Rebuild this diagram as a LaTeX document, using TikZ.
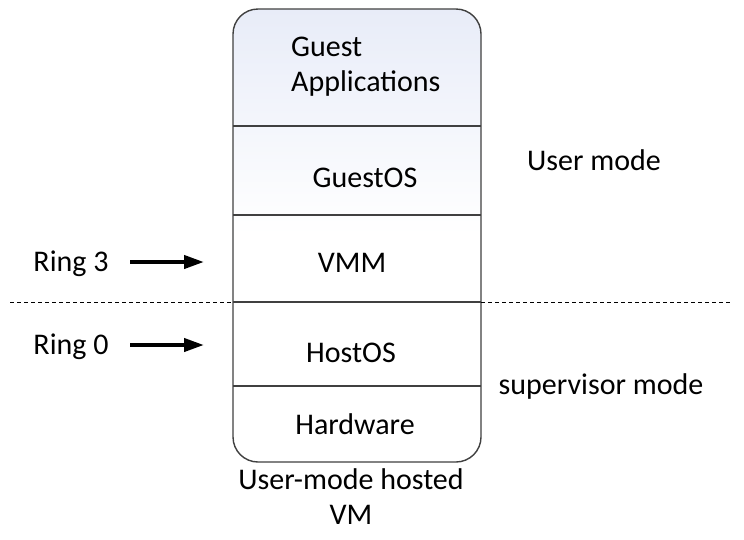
\documentclass[tikz,border=0pt]{standalone}
\usepackage{fontspec}
\setmainfont{Carlito}
\usepackage{xcolor}
\usetikzlibrary{arrows.meta,positioning}

\definecolor{boxline}{HTML}{404040}
\definecolor{guestblue}{HTML}{E8ECF8}

\begin{document}
\begin{tikzpicture}[x=1pt, y=-1pt,
    label/.style={font=\fontsize{30}{35}\selectfont, inner sep=0pt, anchor=base},
    layer/.style={draw=boxline, line width=1.4pt},
    ringarrow/.style={-{Triangle[length=20pt, width=13pt]}, line width=4pt, black}
]
\useasboundingbox (0,0) rectangle (744,539);

% the VM stack
\shade[top color=guestblue, bottom color=white, middle color=white, rounded corners=25pt]
    (233,9) rectangle (481,462);
\node[layer, rounded corners=25pt, minimum width=248pt, minimum height=453pt, inner sep=0pt] (vmbox) at (357,235.5) {};

\coordinate (div1w) at (233,126); \coordinate (div1e) at (481,126);
\coordinate (div2w) at (233,215); \coordinate (div2e) at (481,215);
\coordinate (div3w) at (233,302); \coordinate (div3e) at (481,302);
\coordinate (div4w) at (233,386); \coordinate (div4e) at (481,386);
\draw[layer] (div1w) -- (div1e);
\draw[layer] (div2w) -- (div2e);
\draw[layer] (div3w) -- (div3e);
\draw[layer] (div4w) -- (div4e);

\node[label, anchor=base west, align=left] (guestapp) at (291,91) {Guest\\Applications};
\node[label] (guestos) at (365,187) {GuestOS};
\node[label] (vmm) at (352,272) {VMM};
\node[label] (hostos) at (351,362) {HostOS};
\node[label] (hardware) at (355,434) {Hardware};

% privilege split
\coordinate (splitw) at (10,302);
\coordinate (splite) at (731,302);
\draw[dashed, line width=0.9pt, dash pattern=on 4pt off 3pt] (splitw) -- (div3w);
\draw[dashed, line width=0.9pt, dash pattern=on 4pt off 3pt] (div3e) -- (splite);

\node[label] (usermode) at (594,170) {User mode};
\node[label] (supmode) at (601,394) {supervisor mode};

% rings
\node[label] (ring3) at (71,271) {Ring 3};
\node[label] (ring0) at (71,354) {Ring 0};
\coordinate (ring3tip) at (204,262);
\coordinate (ring0tip) at (204,345);
\draw[ringarrow] (130,262) -- (ring3tip);
\draw[ringarrow] (130,345) -- (ring0tip);

\node[label, align=center] (caption) at (351,524) {User-mode hosted\\VM};

\end{tikzpicture}
\end{document}
